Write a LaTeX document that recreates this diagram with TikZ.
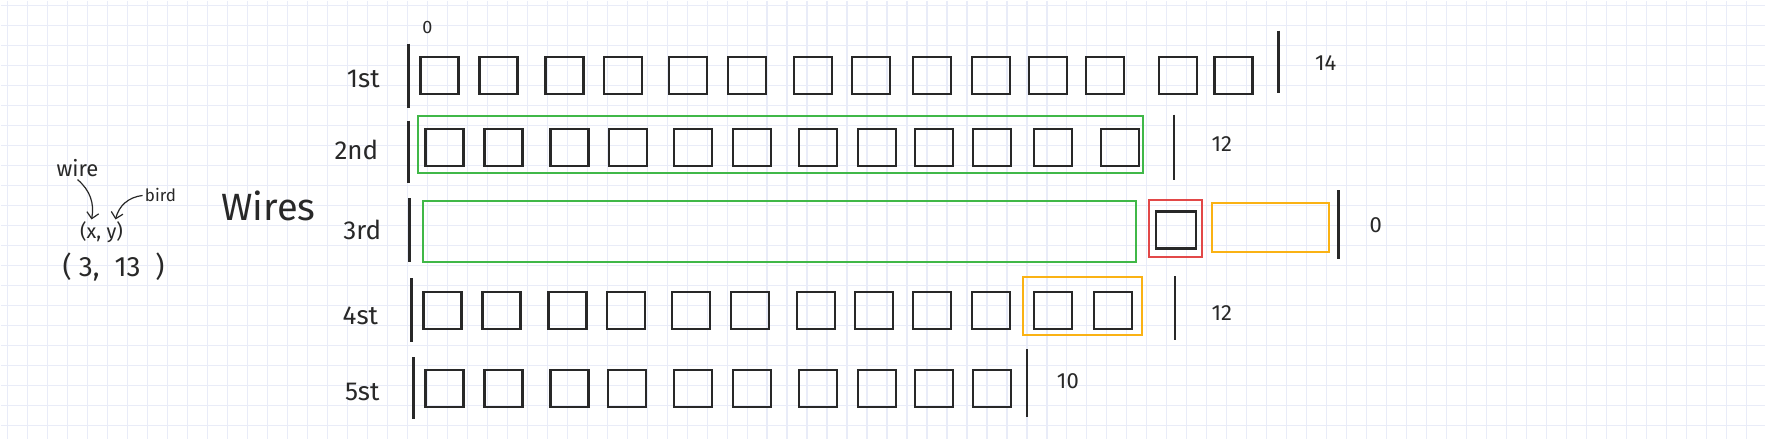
\documentclass[tikz,border=0pt]{standalone}
\usepackage{fontspec}
\setmainfont{Fira Sans}
\usetikzlibrary{arrows.meta}

\definecolor{paperline}{RGB}{233,236,248}
\definecolor{ink}{RGB}{40,40,40}
\definecolor{keepgreen}{RGB}{64,184,72}
\definecolor{hitred}{RGB}{226,72,72}
\definecolor{freeorange}{RGB}{250,178,20}

\begin{document}
\begin{tikzpicture}[
  x=0.5pt, y=-0.5pt,
  birdbox/.style={rectangle, draw=ink, line width=1.3pt, minimum width=19pt,
                  minimum height=18.5pt, inner sep=0pt},
  pole/.style={draw=ink, line width=1.3pt},
  rowlabel/.style={font=\fontsize{13}{15}\selectfont, text=ink},
  count/.style={font=\fontsize{11}{13}\selectfont, text=ink},
  note/.style={font=\fontsize{11}{13}\selectfont, text=ink, inner sep=1pt},
  frame/.style={rectangle, line width=1pt, inner sep=0pt},
  arrow/.style={-{Straight Barb[length=3pt]}, draw=ink, line width=0.6pt},
]
% paper
\fill[white] (0,0) rectangle (1766,439);
\foreach \gx in {7,27,...,1766} \draw[paperline, line width=0.6pt] (\gx,0) -- (\gx,439);
\foreach \gy in {5,25,...,439} \draw[paperline, line width=0.6pt] (0,\gy) -- (1766,\gy);

% notes on the left
\node[note] (wire) at (77,168) {wire};
\node[note, font=\fontsize{8.5}{10}\selectfont] (bird) at (160,195) {bird};
\node[note, font=\fontsize{10}{12}\selectfont] (xy) at (101,232) {(x, y)};
\node[note, font=\fontsize{14}{16}\selectfont] (pair) at (113,267) {( 3,\ \ 13 \ )};
\node[text=ink, font=\fontsize{19}{22}\selectfont] (wires) at (268,205) {Wires};
\draw[arrow] (wire.south) to[bend left=30] ([xshift=-5pt]xy.north);
\draw[arrow] (bird.west) to[bend right=35] ([xshift=7pt]xy.north);

% row labels
\node[rowlabel] (row1) at (363,78) {1st};
\node[rowlabel] (row2) at (356,149) {2nd};
\node[rowlabel] (row3) at (362,229) {3rd};
\node[rowlabel] (row4) at (360,315) {4st};
\node[rowlabel] (row5) at (362,392) {5st};
\node[font=\fontsize{9}{10}\selectfont, text=ink] (zero) at (427,27) {0};

% 1st wire
\draw[pole] (408,43) -- (408,107);
\foreach \lx [count=\i] in {419,478,544,603,668,727,793,851,912,971,1028,1085,1158,1214}
  \node[birdbox] (a\i) at (\lx+20,75) {};
\draw[pole] (1279,30) -- (1279,92);
\node[count] (n1) at (1326,62) {14};

% 2nd wire
\draw[pole] (408,120) -- (408,183);
\node[frame, draw=keepgreen, minimum width=362.5pt, minimum height=29pt] (keep2) at (780.5,144) {};
\foreach \lx [count=\i] in {424,483,549,608,673,732,798,857,914,972,1033,1100}
  \node[birdbox] (b\i) at (\lx+20,147) {};
\draw[pole] (1174,114) -- (1174,180);
\node[count] (n2) at (1222,144) {12};

% 3rd wire
\draw[pole] (409,198) -- (409,262);
\node[frame, draw=keepgreen, minimum width=356.5pt, minimum height=30.5pt] (keep3) at (779.5,231.5) {};
\node[frame, draw=hitred, minimum width=26.5pt, minimum height=28.5pt] (hit3) at (1175.5,228.5) {};
\node[birdbox, minimum width=20pt] (c1) at (1176,229.5) {};
\node[frame, draw=freeorange, minimum width=58.5pt, minimum height=24.5pt] (free3) at (1270.5,227.5) {};
\draw[pole] (1339,190) -- (1339,259);
\node[count] (n3) at (1376,225) {0};

% 4th wire
\draw[pole] (411,278) -- (411,342);
\foreach \lx [count=\i] in {422,481,547,606,671,730,796,854,912,971,1033,1093}
  \node[birdbox] (d\i) at (\lx+20,310) {};
\node[frame, draw=freeorange, minimum width=59.5pt, minimum height=29pt] (free4) at (1082.5,306) {};
\draw[pole] (1175,276) -- (1175,340);
\node[count] (n4) at (1222,313) {12};

% 5th wire
\draw[pole] (413,357) -- (413,419);
\foreach \lx [count=\i] in {424,483,549,607,673,732,798,857,914,972}
  \node[birdbox] (e\i) at (\lx+20,388) {};
\draw[pole] (1027,349) -- (1027,417);
\node[count] (n5) at (1068,381) {10};
\end{tikzpicture}
\end{document}
